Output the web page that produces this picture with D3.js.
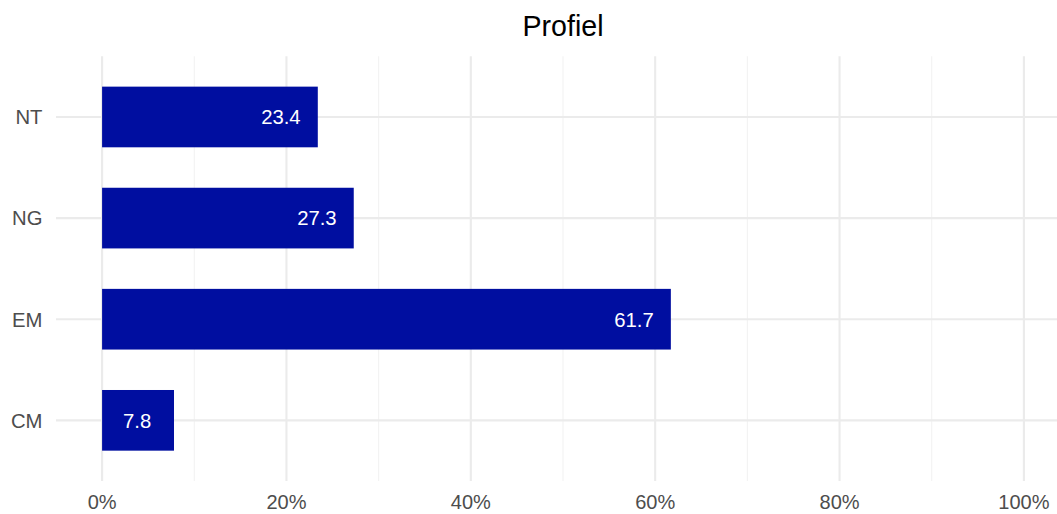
<!DOCTYPE html>
<html>
<head>
<meta charset="utf-8">
<script src="https://cdn.jsdelivr.net/npm/d3@7"></script>
<style>
  body { margin: 0; background: #fff; }
  text { font-family: Arial, "Liberation Sans", sans-serif; }
</style>
</head>
<body>
<div class="chart"></div>
<script>
// chart data
const categories = ["NT", "NG", "EM", "CM"];
const values = [23.4, 27.3, 61.7, 7.8];
const majorTicks = [0, 20, 40, 60, 80, 100];
const minorTicks = [10, 30, 50, 70, 90];
const tickLabels = ["0%", "20%", "40%", "60%", "80%", "100%"];
const title = "Profiel";

const w = 1057, h = 514;
const panel = {left: 56, right: 1070, top: 56.3, bottom: 481};

const svg = d3.select('.chart')
              .append('svg')
              .attr('width', w)
              .attr('height', h);

// x is a percentage, ggplot style 5% expansion each side
const x = d3.scaleLinear()
            .domain([-5, 105])
            .range([panel.left, panel.right]);

const y = d3.scaleBand()
            .domain(categories)
            .range([panel.top, panel.bottom])
            .paddingInner(0)
            .paddingOuter(0.1);

const step = y.step();
const barH = step * 0.6;

// minor grid
svg.selectAll('.minor')
   .data(minorTicks)
   .enter()
   .append('line')
   .attr('class', 'minor')
   .attr('x1', d => x(d)).attr('x2', d => x(d))
   .attr('y1', panel.top).attr('y2', panel.bottom)
   .attr('stroke', '#f2f2f2')
   .attr('stroke-width', 1.1);

// major grid, vertical
svg.selectAll('.majorx')
   .data(majorTicks)
   .enter()
   .append('line')
   .attr('class', 'majorx')
   .attr('x1', d => x(d)).attr('x2', d => x(d))
   .attr('y1', panel.top).attr('y2', panel.bottom)
   .attr('stroke', '#ebebeb')
   .attr('stroke-width', 2.1);

// major grid, horizontal
svg.selectAll('.majory')
   .data(categories)
   .enter()
   .append('line')
   .attr('class', 'majory')
   .attr('x1', panel.left).attr('x2', w)
   .attr('y1', d => y(d) + step / 2).attr('y2', d => y(d) + step / 2)
   .attr('stroke', '#ebebeb')
   .attr('stroke-width', 2.1);

// bars
svg.selectAll('.bar')
   .data(categories)
   .enter()
   .append('rect')
   .attr('class', 'bar')
   .attr('x', x(0))
   .attr('y', d => y(d) + step / 2 - barH / 2)
   .attr('width', (d, i) => x(values[i]) - x(0))
   .attr('height', barH)
   .attr('fill', '#000ea0');

// value labels inside bars
svg.selectAll('.vlabel')
   .data(categories)
   .enter()
   .append('text')
   .attr('class', 'vlabel')
   .attr('x', (d, i) => x(values[i] - 4))
   .attr('y', d => y(d) + step / 2)
   .attr('dy', '0.36em')
   .attr('text-anchor', 'middle')
   .attr('font-size', 20.3)
   .attr('fill', '#ffffff')
   .text((d, i) => values[i].toFixed(1));

// y axis labels
svg.selectAll('.ylabel')
   .data(categories)
   .enter()
   .append('text')
   .attr('class', 'ylabel')
   .attr('x', 42.5)
   .attr('y', d => y(d) + step / 2)
   .attr('dy', '0.36em')
   .attr('text-anchor', 'end')
   .attr('font-size', 20.3)
   .attr('fill', '#4d4d4d')
   .text(d => d);

// x axis labels (kept just inside the bottom edge)
svg.selectAll('.xlabel')
   .data(majorTicks)
   .enter()
   .append('text')
   .attr('class', 'xlabel')
   .attr('x', d => x(d))
   .attr('y', 509.3)
   .attr('text-anchor', 'middle')
   .attr('font-size', 20)
   .attr('fill', '#4d4d4d')
   .text((d, i) => tickLabels[i]);

// title
svg.append('text')
   .attr('class', 'title')
   .attr('x', x(50))
   .attr('y', 35.7)
   .attr('text-anchor', 'middle')
   .attr('font-size', 28.6)
   .attr('fill', '#000')
   .text(title);
</script>
</body>
</html>
